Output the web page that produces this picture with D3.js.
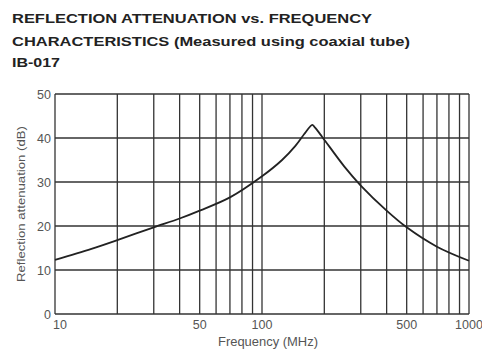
<!DOCTYPE html>
<html>
<head>
<meta charset="utf-8">
<script src="https://cdn.jsdelivr.net/npm/d3@7"></script>
<style>
  html, body { margin: 0; padding: 0; background: #fff; }
  svg { display: block; }
</style>
</head>
<body>
<svg id="chart" width="482" height="351"></svg>
<script>
// Title lines
const titleLines = [
  "REFLECTION ATTENUATION vs. FREQUENCY",
  "CHARACTERISTICS (Measured using coaxial tube)",
  "IB-017"
];

// Measured curve: frequency (MHz) and reflection attenuation (dB)
const freqMHz = [10, 15, 20, 30, 40, 50, 70, 100, 125, 145, 160, 170, 175, 180, 195, 250, 300, 400, 500, 700, 1000];
const attenDB = [12.3, 14.8, 16.8, 19.7, 21.7, 23.5, 26.5, 31.3, 35.0, 38.2, 40.9, 42.5, 43.0, 42.4, 40.3, 33.5, 29.2, 23.5, 19.7, 15.3, 12.1];

// Axis ticks
const xGrid = [10, 20, 30, 40, 50, 60, 70, 80, 90, 100, 200, 300, 400, 500, 600, 700, 800, 900, 1000];
const xLabels = [10, 50, 100, 500, 1000];
const yTicks = [0, 10, 20, 30, 40, 50];

const svg = d3.select("#chart");
const margin = { left: 55, right: 13, top: 94, bottom: 37 };
const W = 482, H = 351;
const font = "Liberation Sans, Arial, sans-serif";

const x = d3.scaleLog().domain([10, 1000]).range([margin.left, W - margin.right]);
const y = d3.scaleLinear().domain([0, 50]).range([H - margin.bottom, margin.top]);

// Title
const titleY = [23, 46, 67];
const titleW = [360, 398, 48];
svg.selectAll("text.title").data(titleLines).join("text")
  .attr("class", "title")
  .attr("x", 12)
  .attr("y", (d, i) => titleY[i])
  .attr("textLength", (d, i) => titleW[i])
  .attr("lengthAdjust", "spacingAndGlyphs")
  .attr("font-family", font)
  .attr("font-weight", "bold")
  .attr("font-size", 13)
  .attr("fill", "#222")
  .text(d => d);

const gridColor = "#333";

// Vertical grid
svg.append("g").selectAll("line").data(xGrid).join("line")
  .attr("x1", d => x(d)).attr("x2", d => x(d))
  .attr("y1", y(0)).attr("y2", y(50))
  .attr("stroke", gridColor).attr("stroke-width", 1.3);

// Horizontal grid
svg.append("g").selectAll("line").data(yTicks).join("line")
  .attr("x1", x(10)).attr("x2", x(1000))
  .attr("y1", d => y(d)).attr("y2", d => y(d))
  .attr("stroke", gridColor).attr("stroke-width", 1.3);

// Y tick labels
svg.append("g").selectAll("text").data(yTicks).join("text")
  .attr("x", margin.left - 4)
  .attr("y", d => y(d))
  .attr("dy", "0.36em")
  .attr("text-anchor", "end")
  .attr("font-family", font)
  .attr("font-size", 12.5)
  .attr("fill", "#555")
  .text(d => d);

// X tick labels
svg.append("g").selectAll("text").data(xLabels).join("text")
  .attr("x", d => d === 10 ? x(d) + 5 : x(d))
  .attr("y", H - margin.bottom + 15)
  .attr("text-anchor", "middle")
  .attr("font-family", font)
  .attr("font-size", 12.5)
  .attr("fill", "#555")
  .text(d => d);

// Axis titles
svg.append("text")
  .attr("transform", `translate(25,${(y(0) + y(50)) / 2}) rotate(-90)`)
  .attr("text-anchor", "middle")
  .attr("font-family", font)
  .attr("font-size", 11)
  .attr("textLength", 156)
  .attr("lengthAdjust", "spacingAndGlyphs")
  .attr("fill", "#555")
  .text("Reflection attenuation (dB)");

svg.append("text")
  .attr("x", 268)
  .attr("y", 346)
  .attr("text-anchor", "middle")
  .attr("font-family", font)
  .attr("font-size", 12)
  .attr("textLength", 100)
  .attr("lengthAdjust", "spacingAndGlyphs")
  .attr("fill", "#555")
  .text("Frequency (MHz)");

// Curve
const pts = freqMHz.map((f, i) => [f, attenDB[i]]);
const line = d3.line()
  .x(d => x(d[0])).y(d => y(d[1]))
  .curve(d3.curveCatmullRom.alpha(0.5));
svg.append("path")
  .datum(pts)
  .attr("d", line)
  .attr("fill", "none")
  .attr("stroke", "#222")
  .attr("stroke-width", 1.8);
</script>
</body>
</html>
